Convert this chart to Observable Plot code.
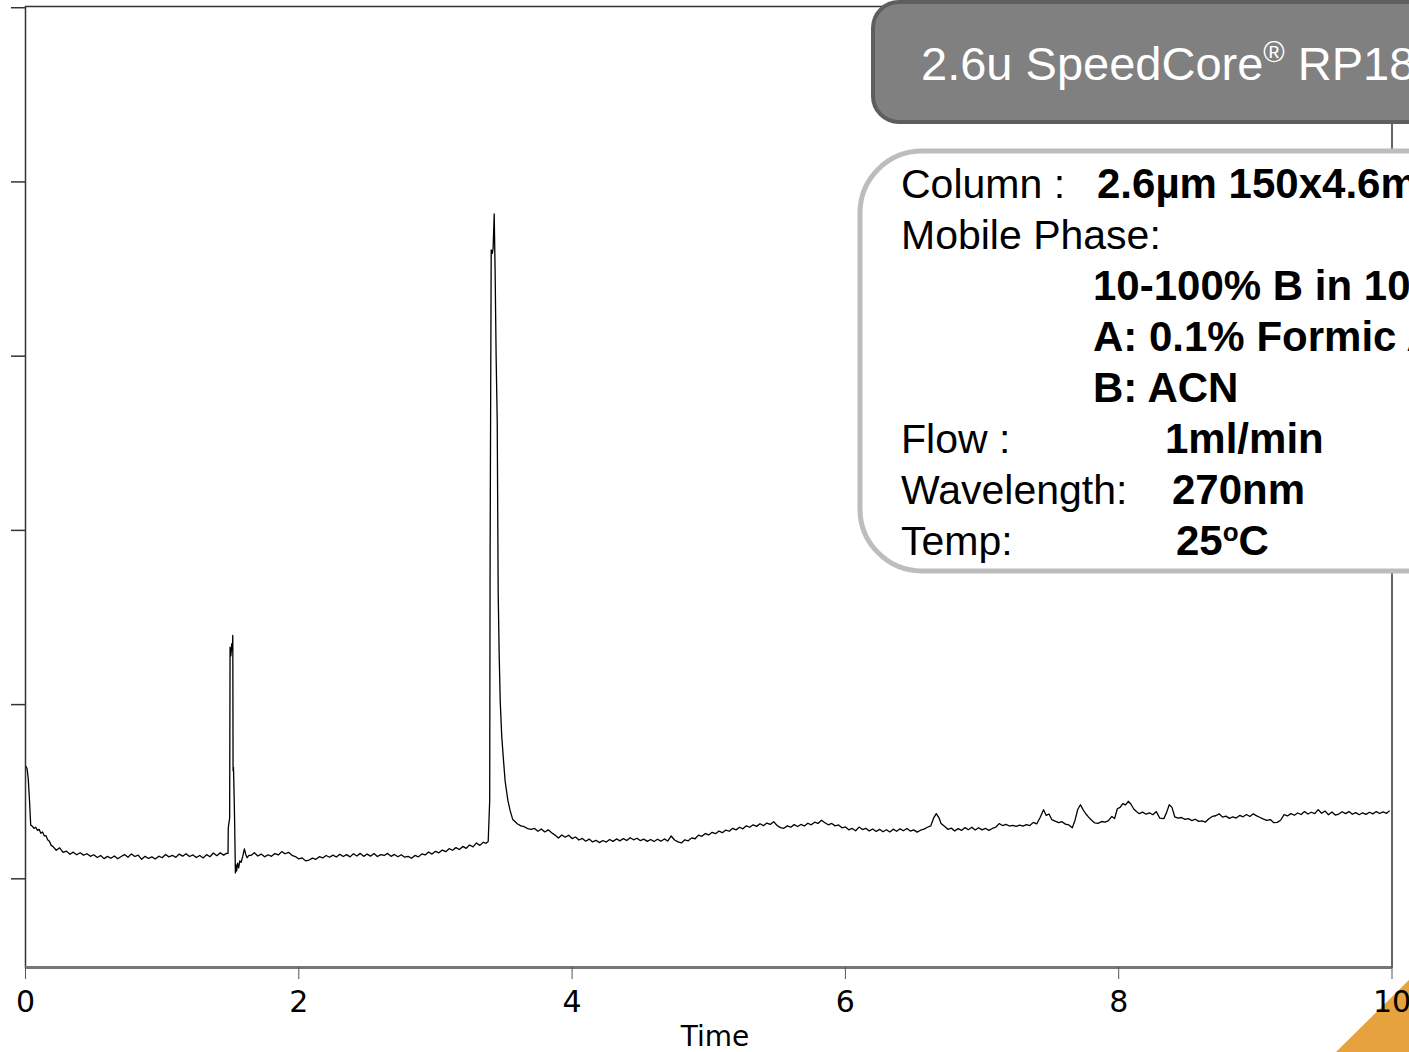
<!DOCTYPE html>
<html><head><meta charset="utf-8">
<script src="https://cdn.jsdelivr.net/npm/d3@7"></script>
<script src="https://cdn.jsdelivr.net/npm/@observablehq/plot@0.6"></script>
<style>
html,body{margin:0;padding:0;background:#fff;overflow:hidden;}
#wrap{position:relative;width:1409px;height:1052px;overflow:hidden;}
#wrap > *{position:absolute;left:0;top:0;}
</style></head>
<body>
<div id="wrap">
<svg id="under" width="1409" height="1052">
  <polygon points="1336,1052 1409,980 1409,1052" fill="#E6A23C"/>
</svg>
<div id="chart"></div>
<svg id="over" width="1409" height="1052" font-family="'Liberation Sans', Arial, sans-serif">
  <rect x="873" y="2" width="620" height="120" rx="26" fill="#808080" stroke="#5e5e5e" stroke-width="4"/>
  <text x="921" y="80" font-size="47" fill="#fff">2.6u SpeedCore<tspan font-size="29" dy="-18">®</tspan><tspan dy="18"> RP18</tspan></text>
  <rect x="860" y="151" width="640" height="420" rx="62" fill="#fff" stroke="#bdbdbd" stroke-width="5"/>
  <g font-size="41" fill="#000">
    <text x="901" y="198">Column :</text>
    <text x="1097" y="198" font-weight="bold" font-size="42">2.6µm 150x4.6mm</text>
    <text x="901" y="249">Mobile Phase:</text>
    <text x="1093" y="300" font-weight="bold" font-size="42">10-100% B in 10 min</text>
    <text x="1093" y="351" font-weight="bold" font-size="42">A: 0.1% Formic Acid</text>
    <text x="1093" y="402" font-weight="bold" font-size="42">B: ACN</text>
    <text x="901" y="453">Flow :</text>
    <text x="1165" y="453" font-weight="bold" font-size="42">1ml/min</text>
    <text x="901" y="504">Wavelength:</text>
    <text x="1172" y="504" font-weight="bold" font-size="42">270nm</text>
    <text x="901" y="555">Temp:</text>
    <text x="1176" y="555" font-weight="bold" font-size="42">25<tspan font-size="26" dy="-14">o</tspan><tspan dy="14">C</tspan></text>
  </g>
  <text x="715" y="1046" font-size="28" text-anchor="middle" font-family="'DejaVu Sans', Verdana, sans-serif">Time</text>
</svg>
</div>
<script>
// Chromatogram trace, [time (min), signal (arbitrary units)]
const segStart = [
 [0.005,64.4],[0.012,63.0],[0.02,57.5],[0.03,44.0],[0.038,30.8],[0.05,30.2],[0.062,28.9],[0.075,29.6],
 [0.088,27.8],[0.1,28.4],[0.112,26.2],[0.125,26.9],[0.138,24.6],[0.15,24.8],[0.162,22.4],[0.175,21.6],
 [0.188,19.2],[0.2,18.6],[0.225,16.4],[0.25,17.8],[0.275,15.2],[0.3,15.9],[0.325,14.1],[0.35,15.3],
 [0.375,13.8],[0.4,15.0],[0.425,13.6],[0.45,14.4],[0.475,12.9],[0.5,13.8],[0.525,12.2],[0.55,13.4],
 [0.575,11.6],[0.6,12.9],[0.625,11.8],[0.65,13.1],[0.675,11.5],[0.7,12.8],[0.725,13.9],[0.75,12.4],
 [0.775,14.3],[0.8,12.8],[0.825,13.6],[0.85,11.2],[0.875,12.9],[0.9,11.7],[0.925,12.6],[0.95,11.4],
 [0.975,13.0],[1.0,12.1],[1.025,14.0],[1.05,12.6],[1.075,13.5],[1.1,12.3],[1.125,14.2],[1.15,13.0],
 [1.175,14.4],[1.2,12.8],[1.225,13.7],[1.25,12.2],[1.275,13.4],[1.3,12.0],[1.325,13.9],[1.35,12.7],
 [1.375,14.8],[1.4,13.3],[1.425,15.0],[1.45,13.6],[1.47,14.6]
];
const peak1 = [
 [1.482,14.6],[1.484,29.3],[1.494,35],[1.497,133],[1.503,128],[1.510,135],[1.514,131],[1.517,139.7],
 [1.519,62],[1.522,64],[1.527,46.6],[1.531,30],[1.536,3.4],[1.540,8],[1.545,4.5],[1.552,9],
 [1.560,6.3],[1.568,10.3],[1.578,9.5],[1.590,13],[1.602,17.2],[1.612,14],[1.622,12.1],[1.635,13.5]
];
const segMid = [
 [1.65,13.4],[1.675,15.0],[1.7,13.1],[1.725,14.2],[1.75,12.6],[1.775,13.8],[1.8,12.9],[1.825,14.5],
 [1.85,13.7],[1.875,15.6],[1.9,14.4],[1.925,15.2],[1.95,13.5],[1.975,12.8],[2.0,11.4],[2.025,12.0],
 [2.05,10.3],[2.075,10.8],[2.1,11.9],[2.125,11.2],[2.15,12.7],[2.175,12.0],[2.2,13.4],[2.225,12.4],
 [2.25,13.6],[2.275,12.5],[2.3,14.1],[2.325,12.8],[2.35,13.9],[2.375,12.6],[2.4,14.4],[2.425,13.1],
 [2.45,14.6],[2.475,12.9],[2.5,14.2],[2.525,13.0],[2.55,14.5],[2.575,12.8],[2.6,13.9],[2.625,13.4],
 [2.65,14.6],[2.675,12.9],[2.7,14.0],[2.725,12.7],[2.75,13.8],[2.775,12.4],[2.8,12.9],[2.825,11.8],
 [2.85,13.4],[2.875,12.6],[2.9,14.3],[2.925,13.7],[2.95,15.4],[2.975,14.2],[3.0,15.8],[3.025,14.9],
 [3.05,16.5],[3.075,15.6],[3.1,17.3],[3.125,16.4],[3.15,17.9],[3.175,16.8],[3.2,18.6],[3.225,17.5],
 [3.25,19.4],[3.275,18.3],[3.3,20.6],[3.325,19.2],[3.35,21.0],[3.37,20.4]
];
const peak2 = [
 [3.386,21.4],[3.397,44.8],[3.400,185],[3.408,361],[3.416,359],[3.422,362],[3.430,381.6],[3.437,346.6],
 [3.444,300],[3.452,263],[3.459,165],[3.466,130],[3.474,102],[3.485,82],[3.496,70],[3.510,56],
 [3.530,45],[3.547,39],[3.566,34],[3.599,31.6],[3.625,30.4],[3.65,29.9],[3.675,28.8],[3.70,28.4]
];
const segEnd = [
 [3.725,28.9],[3.75,27.3],[3.775,28.6],[3.8,26.9],[3.825,28.1],[3.85,26.4],[3.875,25.1],[3.9,23.4],
 [3.925,25.2],[3.95,23.9],[3.975,25.0],[4.0,23.1],[4.025,24.0],[4.05,22.3],[4.075,23.2],[4.1,21.6],
 [4.125,22.8],[4.15,21.2],[4.175,22.1],[4.2,20.8],[4.225,22.0],[4.25,21.1],[4.275,22.6],[4.3,21.5],
 [4.325,22.9],[4.35,21.8],[4.375,23.1],[4.4,22.0],[4.425,23.6],[4.45,22.4],[4.475,23.3],[4.5,21.9],
 [4.525,22.8],[4.55,21.5],[4.575,22.6],[4.6,21.4],[4.625,22.7],[4.65,21.6],[4.675,22.9],[4.7,21.7],
 [4.725,24.6],[4.75,22.3],[4.775,21.2],[4.8,20.6],[4.825,22.4],[4.85,21.8],[4.875,23.5],[4.9,23.0],
 [4.925,25.1],[4.95,24.4],[4.975,26.0],[5.0,25.2],[5.025,26.7],[5.05,25.9],[5.075,27.4],[5.1,26.5],
 [5.125,28.0],[5.15,27.3],[5.175,29.0],[5.2,28.1],[5.225,29.6],[5.25,28.7],[5.275,30.4],[5.3,29.6],
 [5.325,31.0],[5.35,30.1],[5.375,31.6],[5.4,30.5],[5.425,32.0],[5.45,31.2],[5.475,32.8],[5.5,30.6],
 [5.525,29.4],[5.55,29.0],[5.575,30.4],[5.6,29.6],[5.625,31.1],[5.65,30.0],[5.675,31.2],[5.7,30.3],
 [5.725,31.9],[5.75,31.0],[5.775,32.5],[5.8,31.8],[5.825,33.6],[5.85,32.2],[5.875,31.0],[5.9,31.8],
 [5.925,30.4],[5.95,30.9],[5.975,29.3],[6.0,29.8],[6.025,28.1],[6.05,28.9],[6.075,27.6],[6.1,29.7],
 [6.125,28.3],[6.15,29.0],[6.175,27.5],[6.2,28.6],[6.225,27.2],[6.25,28.4],[6.275,27.0],[6.3,28.2],
 [6.325,26.9],[6.35,28.5],[6.375,27.3],[6.4,28.7],[6.425,27.6],[6.45,28.9],[6.475,27.4],[6.5,28.1],
 [6.525,26.8],[6.55,27.9],[6.575,28.5],[6.6,29.6],[6.625,30.4],[6.645,34.8],[6.665,37.4],[6.685,35.0],
 [6.7,31.8],[6.725,30.2],[6.75,28.4],[6.775,29.1],[6.8,27.5],[6.825,28.8],[6.85,27.8],[6.875,29.4],
 [6.9,28.2],[6.925,29.6],[6.95,28.0],[6.975,29.3],[7.0,28.1],[7.025,29.0],[7.05,27.8],[7.075,28.9],
 [7.1,29.6],[7.125,31.7],[7.15,30.6],[7.175,31.2],[7.2,30.3],[7.225,30.7],[7.25,30.1],[7.275,30.8],
 [7.3,30.2],[7.325,31.1],[7.35,30.6],[7.375,32.4],[7.4,31.5],[7.425,35.2],[7.45,39.7],[7.47,36.4],
 [7.49,37.2],[7.51,34.0],[7.535,33.1],[7.56,32.3],[7.585,32.8],[7.61,31.4],[7.635,30.9],[7.66,29.3],
 [7.68,33.5],[7.7,39.8],[7.72,42.5],[7.74,39.6],[7.76,37.2],[7.78,35.4],[7.8,33.8],[7.825,32.1],
 [7.85,31.8],[7.875,32.9],[7.9,32.5],[7.925,33.4],[7.95,35.8],[7.97,34.6],[7.99,40.2],[8.01,41.0],
 [8.03,43.2],[8.05,42.4],[8.07,44.5],[8.09,42.8],[8.11,40.1],[8.13,38.6],[8.15,37.4],[8.175,38.3],
 [8.2,37.1],[8.225,37.9],[8.25,36.8],[8.275,38.6],[8.3,34.9],[8.33,34.5],[8.35,38.0],[8.37,42.5],
 [8.39,41.0],[8.41,35.6],[8.435,34.8],[8.46,35.2],[8.485,34.1],[8.51,34.6],[8.535,33.4],[8.56,34.2],
 [8.585,33.0],[8.61,33.3],[8.635,32.6],[8.66,34.5],[8.685,35.8],[8.71,36.2],[8.735,37.3],[8.76,35.4],
 [8.785,36.0],[8.81,34.7],[8.835,35.5],[8.86,34.9],[8.885,36.4],[8.91,35.6],[8.935,36.9],[8.96,35.8],
 [8.985,37.3],[9.01,36.1],[9.035,35.2],[9.06,34.3],[9.085,33.5],[9.11,34.0],[9.135,32.2],[9.16,32.4],
 [9.185,33.6],[9.21,36.8],[9.235,36.1],[9.26,37.4],[9.285,36.5],[9.31,37.8],[9.335,36.9],[9.36,38.6],
 [9.385,37.2],[9.41,38.2],[9.435,37.4],[9.46,39.7],[9.485,37.6],[9.51,38.9],[9.535,36.8],[9.56,38.4],
 [9.585,36.6],[9.61,37.2],[9.635,38.5],[9.66,37.4],[9.685,38.6],[9.71,37.1],[9.735,38.0],[9.76,36.8],
 [9.785,37.9],[9.81,37.0],[9.835,38.2],[9.86,37.3],[9.885,38.6],[9.91,37.5],[9.935,38.4],[9.96,37.6],
 [9.98,38.9]
];
const xTicks = [0, 2, 4, 6, 8, 10];
const yTicks = [0, 100, 200, 300, 400, 500];
const yDomain = [-50.9, 500.7];

const trace = [...segStart, ...peak1, ...segMid, ...peak2, ...segEnd].map(([t, v]) => ({t, v}));

const chart = Plot.plot({
  width: 1409,
  height: 1052,
  marginLeft: 25,
  marginRight: 17.5,
  marginTop: 6,
  marginBottom: 85,
  style: {fontFamily: "'DejaVu Sans', Verdana, sans-serif", fontSize: "30px", background: "transparent", color: "#000"},
  x: {domain: [0, 10], ticks: xTicks, label: null},
  y: {domain: yDomain, ticks: yTicks, label: null},
  marks: [
    Plot.frame({stroke: "#333", strokeWidth: 1.5}),
    Plot.ruleY([yDomain[0]], {stroke: "#777", strokeWidth: 3}),
    Plot.axisX({ticks: xTicks, tickSize: 12, tickPadding: 11, label: null, stroke: "#555", fontSize: 30}),
    Plot.axisY({ticks: yTicks, tickSize: 14, tickFormat: () => "", label: null, stroke: "#333", strokeWidth: 1.5}),
    Plot.line(trace, {x: "t", y: "v", stroke: "#000", strokeWidth: 1.3})
  ]
});
document.getElementById("chart").appendChild(chart);
</script>
</body></html>
